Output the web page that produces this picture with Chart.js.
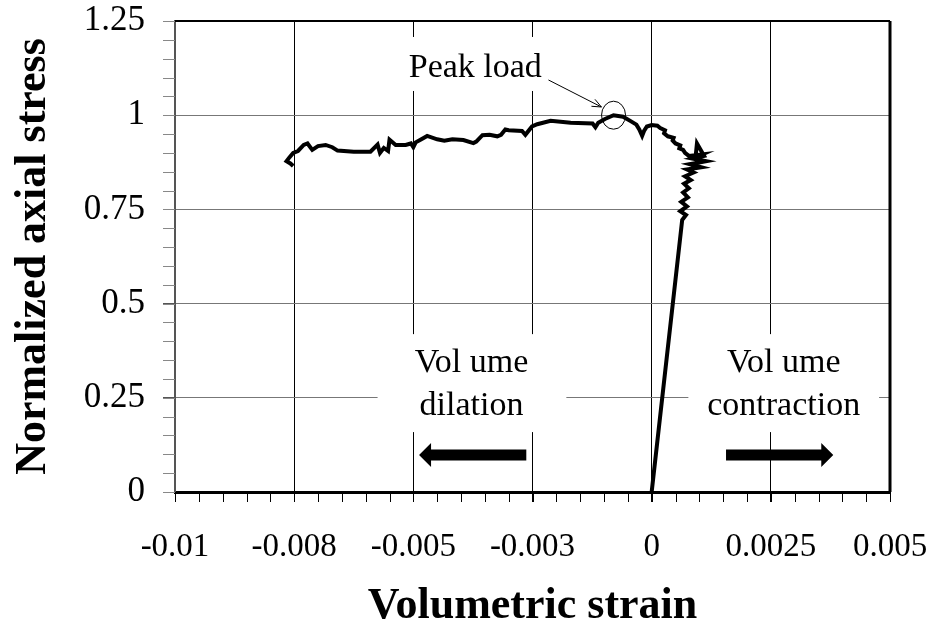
<!DOCTYPE html>
<html>
<head>
<meta charset="utf-8">
<script src="https://cdn.jsdelivr.net/npm/chart.js@4/dist/chart.umd.min.js"></script>
<style>
  html,body{margin:0;padding:0;background:#fff}
  #wrap{width:935px;height:637px}
</style>
</head>
<body>
<div id="wrap"><canvas id="c" width="935" height="637"></canvas></div>
<script>
// courbe contrainte axiale normalisée vs déformation volumique
const strain = [0, 0.00064, 0.00072, 0.00060, 0.00074, 0.00062, 0.00076, 0.00066, 0.00078, 0.00068,
  0.00082, 0.00070, 0.00088, 0.00074, 0.00104, 0.00080, 0.00114, 0.00086, 0.00110, 0.00095,
  0.00092, 0.00106, 0.00078, 0.00070, 0.00066, 0.00058, 0.00060, 0.00050, 0.00044, 0.00046,
  0.00034, 0.00026, 0.00028, 0.00018, 0.00012, 0.0, -0.00010, -0.00016, -0.00020, -0.00026,
  -0.00032, -0.00045, -0.00060, -0.00080, -0.00098, -0.00112, -0.00118, -0.00124, -0.00170, -0.00212,
  -0.00240, -0.00251, -0.00265, -0.00272, -0.00300, -0.00307, -0.00316, -0.00324, -0.00340, -0.00355,
  -0.00368, -0.00374, -0.00395, -0.00418, -0.00435, -0.00450, -0.00471, -0.00485, -0.00495, -0.00500,
  -0.00505, -0.00516, -0.00537, -0.00550, -0.00553, -0.00562, -0.00570, -0.00575, -0.00590, -0.00625,
  -0.00659, -0.00670, -0.00684, -0.00700, -0.00712, -0.00722, -0.00730, -0.00742, -0.00752, -0.00760,
  -0.00766, -0.00758, -0.00752];
const stress = [0, 0.722, 0.735, 0.745, 0.758, 0.770, 0.782, 0.795, 0.806, 0.818,
  0.828, 0.838, 0.848, 0.856, 0.862, 0.870, 0.878, 0.885, 0.892, 0.925,
  0.888, 0.896, 0.892, 0.900, 0.908, 0.912, 0.920, 0.925, 0.933, 0.940,
  0.944, 0.952, 0.960, 0.966, 0.972, 0.974, 0.970, 0.958, 0.945, 0.962,
  0.975, 0.985, 0.996, 1.000, 0.990, 0.980, 0.968, 0.978, 0.980, 0.985,
  0.976, 0.970, 0.948, 0.958, 0.960, 0.962, 0.948, 0.944, 0.948, 0.947,
  0.930, 0.926, 0.934, 0.936, 0.932, 0.936, 0.945, 0.935, 0.928, 0.915,
  0.925, 0.921, 0.921, 0.935, 0.905, 0.913, 0.900, 0.922, 0.903, 0.903,
  0.906, 0.915, 0.921, 0.918, 0.908, 0.925, 0.921, 0.905, 0.900, 0.888,
  0.878, 0.872, 0.865];

const xTickVals = [-0.01, -0.0075, -0.005, -0.0025, 0, 0.0025, 0.005];
const xTickLabels = ['-0.01', '-0.008', '-0.005', '-0.003', '0', '0.0025', '0.005'];
const yTickVals = [0, 0.25, 0.5, 0.75, 1, 1.25];
const yTickLabels = ['0', '0.25', '0.5', '0.75', '1', '1.25'];

const serif = '"Liberation Serif", "Times New Roman", serif';

// annotations, en coordonnées des données
const notes = {
  peak: {text: ['Peak load'], x: -0.0037, y: 1.125, box: [-0.00527, 1.2076, -0.00217, 1.0643]},
  dil: {text: ['Vol ume', 'dilation'], x: -0.00378, y: [0.342, 0.227], box: [-0.00575, 0.419, -0.00179, 0.159]},
  con: {text: ['Vol ume', 'contraction'], x: 0.00277, y: [0.342, 0.227], box: [0.00077, 0.419, 0.00477, 0.159]}
};

const extras = {
  id: 'extras',
  beforeDatasetsDraw(chart){
    const {ctx, scales:{x, y}} = chart;
    ctx.save();
    // boîtes blanches + textes
    ctx.font = '34px ' + serif;
    ctx.textAlign = 'center';
    ctx.textBaseline = 'middle';
    Object.values(notes).forEach(n=>{
      const [x0,y0,x1,y1] = n.box;
      ctx.fillStyle = '#fff';
      ctx.fillRect(x.getPixelForValue(x0), y.getPixelForValue(y0),
        x.getPixelForValue(x1)-x.getPixelForValue(x0), y.getPixelForValue(y1)-y.getPixelForValue(y0));
      ctx.fillStyle = '#000';
      n.text.forEach((t,i)=>{
        const yy = Array.isArray(n.y) ? n.y[i] : n.y;
        ctx.fillText(t, x.getPixelForValue(n.x), y.getPixelForValue(yy));
      });
    });
    // flèches épaisses
    const fat = (xa, xb, yv) => {
      const pa = x.getPixelForValue(xa), pb = x.getPixelForValue(xb), py = y.getPixelForValue(yv);
      const dir = Math.sign(pb - pa), head = 12;
      ctx.beginPath();
      ctx.moveTo(pa, py-5.5); ctx.lineTo(pb-dir*head, py-5.5); ctx.lineTo(pb-dir*head, py-12);
      ctx.lineTo(pb, py); ctx.lineTo(pb-dir*head, py+12); ctx.lineTo(pb-dir*head, py+5.5);
      ctx.lineTo(pa, py+5.5); ctx.closePath();
      ctx.fill();
    };
    fat(-0.00263, -0.00488, 0.0982);
    fat(0.00156, 0.00381, 0.0982);
    // flèche fine + cercle du pic
    const ax = x.getPixelForValue(-0.002165), ay = y.getPixelForValue(1.0935);
    const bx = x.getPixelForValue(-0.001054), by = y.getPixelForValue(1.0218);
    ctx.strokeStyle = '#000'; ctx.lineWidth = 1;
    ctx.beginPath(); ctx.moveTo(ax, ay); ctx.lineTo(bx, by); ctx.stroke();
    const ang = Math.atan2(by-ay, bx-ax);
    ctx.beginPath();
    ctx.moveTo(bx - 10*Math.cos(ang-0.4), by - 10*Math.sin(ang-0.4));
    ctx.lineTo(bx, by);
    ctx.lineTo(bx - 10*Math.cos(ang+0.4), by - 10*Math.sin(ang+0.4));
    ctx.stroke();
    ctx.beginPath();
    ctx.ellipse(x.getPixelForValue(-0.0008), y.getPixelForValue(1.0), 12, 14, 0, 0, Math.PI*2);
    ctx.stroke();
    ctx.restore();
  },
  afterDraw(chart){
    const {ctx, chartArea:a, scales:{x, y}} = chart;
    ctx.save();
    // graduations mineures
    ctx.lineWidth = 1;
    ctx.strokeStyle = '#000';
    for (let i=0;i<=30;i++){
      const px = Math.round(x.getPixelForValue(-0.01 + i*0.0005)) + 0.5;
      ctx.beginPath(); ctx.moveTo(px, a.bottom); ctx.lineTo(px, a.bottom+10); ctx.stroke();
    }
    ctx.strokeStyle = '#888';
    for (let i=0;i<=25;i++){
      const py = Math.round(y.getPixelForValue(i*0.05)) + 0.5;
      ctx.beginPath(); ctx.moveTo(a.left-12, py); ctx.lineTo(a.left, py); ctx.stroke();
    }
    // cadre haut et droit
    ctx.strokeStyle = '#000';
    ctx.lineWidth = 2;
    ctx.beginPath(); ctx.moveTo(a.left, a.top); ctx.lineTo(a.right, a.top); ctx.stroke();
    ctx.lineWidth = 3;
    ctx.beginPath(); ctx.moveTo(a.right, a.top); ctx.lineTo(a.right, a.bottom); ctx.stroke();
    ctx.restore();
  }
};

new Chart(document.getElementById('c'), {
  type: 'scatter',
  data: { datasets: [{
    data: strain.map((s,i)=>({x:s, y:stress[i]})),
    showLine: true, borderColor: '#000', borderWidth: 4, pointRadius: 0, tension: 0
  }]},
  options: {
    responsive: false, animation: false, devicePixelRatio: 1,
    layout: { padding: {top: 21, right: 45, left: 0, bottom: 0} },
    plugins: { legend: {display:false}, tooltip: {enabled:false} },
    scales: {
      x: {
        type: 'linear', min: -0.01, max: 0.005,
        afterBuildTicks: s => { s.ticks = xTickVals.map(v=>({value:v})); },
        afterFit: s => { s.height = 145; s.paddingLeft = 0; s.paddingRight = 0; },
        grid: { color: '#000', lineWidth: 1, tickLength: 10, tickColor: '#000' },
        border: { color: '#000', width: 3 },
        ticks: { autoSkip: false, maxRotation: 0, padding: 26, color: '#000',
          font: {family: serif, size: 33},
          callback: (v, i) => xTickLabels[i] },
        title: { display: true, text: 'Volumetric strain', color: '#000',
          font: {family: serif, size: 44, weight: 'bold'}, padding: {top: 0, bottom: 4} }
      },
      y: {
        min: 0, max: 1.25,
        afterBuildTicks: s => { s.ticks = yTickVals.map(v=>({value:v})); },
        afterFit: s => { s.width = 175; s.paddingTop = 0; s.paddingBottom = 0; },
        grid: { color: '#777', lineWidth: 1, tickLength: 12, tickColor: '#555' },
        border: { color: '#555', width: 2 },
        ticks: { padding: 18, color: '#000', font: {family: serif, size: 35},
          callback: (v, i) => yTickLabels[i] },
        title: { display: true, text: 'Normalized axial stress', color: '#000',
          font: {family: serif, size: 44, weight: 'bold'}, padding: {top: 7, bottom: 0} }
      }
    }
  },
  plugins: [extras]
});
</script>
</body>
</html>
